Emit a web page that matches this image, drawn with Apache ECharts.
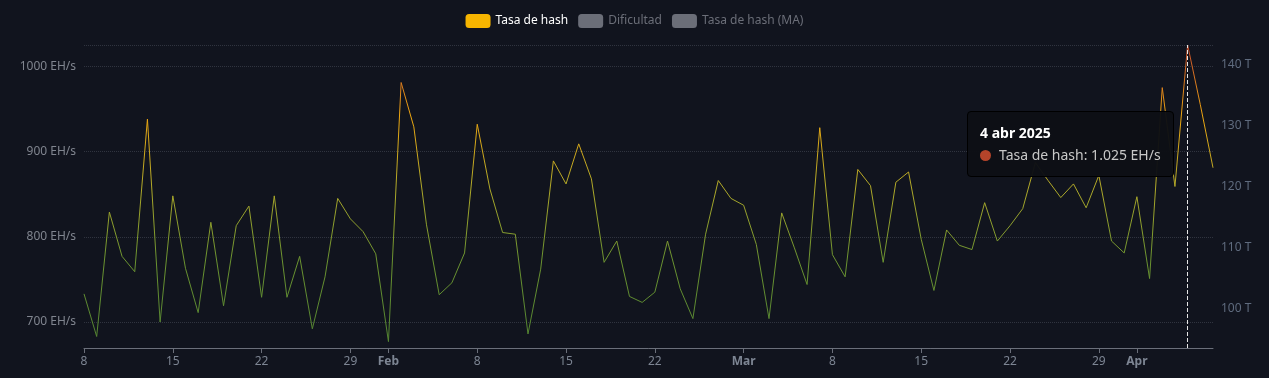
<!DOCTYPE html>
<html>
<head>
<meta charset="utf-8">
<script src="https://cdn.jsdelivr.net/npm/echarts@6/dist/echarts.min.js"></script>
<style>
html,body{margin:0;padding:0;background:#11141e;}
#chart{width:1269px;height:378px;}
</style>
</head>
<body>
<div id="chart"></div>
<script>
// ---- data ----
const startDate = [2025, 0, 8]; // first daily sample: 8 Jan 2025
const hashrate = [
  733, 683, 829, 777, 759, 938, 700, 848, 763, 711,
  817, 719, 813, 836, 729, 848, 729, 777, 692, 753,
  845, 821, 806, 780, 677, 981, 929, 814, 732, 746,
  781, 932, 856, 805, 803, 686, 762, 889, 862, 909,
  868, 770, 795, 730, 723, 735, 795, 739, 704, 803,
  866, 845, 837, 791, 704, 828, 787, 744, 928, 779,
  753, 879, 860, 770, 864, 876, 797, 737, 808, 790,
  785, 840, 795, 813, 833, 887, 866, 846, 862, 834,
  872, 795, 781, 847, 751, 975, 859, 1025, 955, 881
];
const difficulty = [];   // hidden in the reference (legend off)
const hashrateMA = [];   // hidden in the reference (legend off)
const seriesNames = ['Tasa de hash', 'Dificultad', 'Tasa de hash (MA)'];
const monthsEs = ['ene','feb','mar','abr','may','jun','jul','ago','sep','oct','nov','dic'];
const yLeftMin = 669.5, yLeftMax = 1025;
const highlightIndex = 87;

// ---- build ----
const DAY = 86400000;
const times = hashrate.map((_, i) => {
  const d = new Date(startDate[0], startDate[1], startDate[2] + i);
  return d.getTime();
});
const hashData = hashrate.map((v, i) => [times[i], v]);
const H2D = 600 / Math.pow(2, 32) * 1e6; // EH/s -> T difficulty

function fmtNum(v){
  return String(Math.round(v)).replace(/\B(?=(\d{3})+(?!\d))/g, '.');
}

const chart = echarts.init(document.getElementById('chart'), null, {renderer:'canvas'});
const font = 'Noto Sans';
chart.setOption({
  backgroundColor: '#11141e',
  animation: false,
  textStyle: {fontFamily: font},
  legend: {
    top: 9,
    left: 'center',
    itemWidth: 25,
    itemHeight: 14,
    itemGap: 10,
    icon: 'roundRect',
    textStyle: {color: '#ffffff', fontSize: 12, fontFamily: font},
    inactiveColor: '#6b6e78',
    data: seriesNames,
    selected: {'Tasa de hash': true, 'Dificultad': false, 'Tasa de hash (MA)': false}
  },
  grid: {left: 84, right: 56, top: 45, bottom: 30},
  tooltip: {
    trigger: 'axis',
    alwaysShowContent: true,
    transitionDuration: 0,
    backgroundColor: 'rgba(13,15,21,0.97)',
    borderColor: '#000000',
    borderWidth: 1,
    padding: [11, 12, 11, 12],
    extraCssText: 'border-radius:4px;box-shadow:none;',
    position: function(){ return [967, 111]; },
    axisPointer: {
      type: 'line',
      lineStyle: {color: '#e6e6e6', type: 'dashed', width: 1}
    },
    formatter: function(params){
      const p = params[0];
      // daily samples are stamped at the end of the day they cover
      const d = new Date(p.value[0] - DAY);
      const title = d.getDate() + ' ' + monthsEs[d.getMonth()] + ' ' + d.getFullYear();
      return '<div style="font-family:Noto Sans;font-weight:bold;color:#fff;font-size:14px;line-height:20px;margin-bottom:2px;">' + title + '</div>' +
        '<div style="font-family:Noto Sans;color:#c8c8c8;font-size:14px;line-height:20px;">' +
        '<span style="display:inline-block;width:11px;height:11px;border-radius:50%;background:' + p.color + ';margin-right:8px;vertical-align:-1px;"></span>' +
        p.seriesName + ': ' + fmtNum(p.value[1]) + ' EH/s</div>';
    }
  },
  visualMap: {
    show: false,
    type: 'continuous',
    seriesIndex: 0,
    dimension: 1,
    min: 690,
    max: 1025,
    inRange: {color: ['#4e7a2d', '#62862c', '#a09a26', '#d8980f', '#b5442a']}
  },
  xAxis: {
    type: 'time',
    min: times[0],
    max: times[times.length - 1],
    splitNumber: 8,
    axisLine: {lineStyle: {color: '#6b6f7a'}},
    axisTick: {show: true, length: 5, lineStyle: {color: '#6b6f7a'}},
    splitLine: {show: false},
    axisLabel: {color: '#7d8593', fontSize: 12, fontFamily: font, margin: 8, hideOverlap: false},
    axisPointer: {label: {show: false}}
  },
  yAxis: [{
    type: 'value',
    min: yLeftMin,
    max: yLeftMax,
    position: 'left',
    axisLine: {show: false},
    axisTick: {show: false},
    axisLabel: {color: '#80858f', fontSize: 12, fontFamily: font, formatter: function(v){ return v + ' EH/s'; }, showMinLabel: false, showMaxLabel: false, margin: 8},
    splitLine: {lineStyle: {color: '#30343f', type: 'dotted'}}
  }, {
    type: 'value',
    min: +(yLeftMin * H2D).toFixed(3),
    max: +(yLeftMax * H2D).toFixed(3),
    position: 'right',
    axisLine: {show: false},
    axisTick: {show: false},
    axisLabel: {color: '#5f6b7e', fontSize: 12, fontFamily: font, formatter: function(v){ return v + ' T'; }, showMinLabel: false, showMaxLabel: false, margin: 8},
    splitLine: {show: false}
  }],
  series: [{
    name: seriesNames[0],
    type: 'line',
    yAxisIndex: 0,
    symbol: 'none',
    itemStyle: {color: '#f7b500'},
    lineStyle: {width: 1},
    data: hashData
  }, {
    name: seriesNames[1],
    type: 'line',
    yAxisIndex: 1,
    symbol: 'none',
    itemStyle: {color: '#7a7d88'},
    data: difficulty
  }, {
    name: seriesNames[2],
    type: 'line',
    yAxisIndex: 0,
    symbol: 'none',
    itemStyle: {color: '#7a7d88'},
    data: hashrateMA
  }]
});
chart.dispatchAction({type: 'showTip', seriesIndex: 0, dataIndex: highlightIndex});
</script>
</body>
</html>
